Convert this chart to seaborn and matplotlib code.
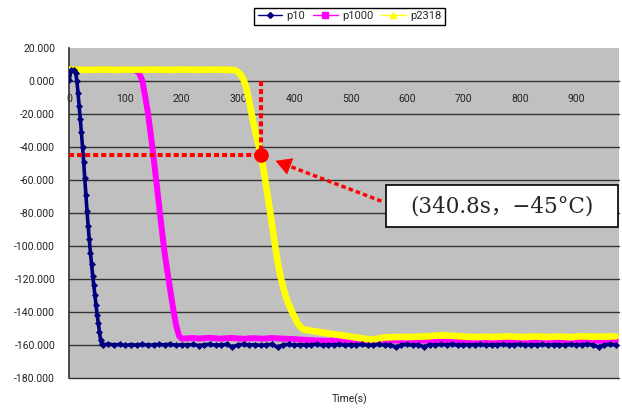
import matplotlib
matplotlib.use("Agg")
import matplotlib.pyplot as plt
from matplotlib.lines import Line2D
from matplotlib.patches import Rectangle
from matplotlib.ticker import FuncFormatter
from matplotlib.transforms import IdentityTransform
import numpy as np
import pandas as pd
import seaborn as sns

# ---------------------------------------------------------------- data
series_names = ["p10", "p1000", "p2318"]

# p10: fast cool-down, then steady near -160 degC
p10_time = ([0, 4, 8, 12, 14, 16, 18, 20, 22, 24, 26, 28, 30, 32, 34, 36, 38,
             40, 42, 44, 46, 48, 50, 52, 54, 56, 58, 60]
            + list(range(70, 980, 10)))
p10_temp = [0.5, 6.8, 7.0, 5.0, 0.0, -7.0, -15.0, -23.0, -31.0, -40.0, -49.0,
            -59.0, -69.0, -79.0, -88.0, -96.0, -104.0, -111.0, -118.0, -124.0,
            -130.0, -136.0, -142.0, -147.0, -152.0, -157.0, -159.5, -160.0,
            # 70 .. 160
            -159.6, -160.1, -159.8, -160.4, -159.9, -160.2, -159.7, -160.3, -160.0, -159.8,
            # 170 .. 260
            -160.1, -159.6, -160.4, -159.9, -160.2, -159.8, -160.5, -160.0, -159.7, -160.3,
            # 270 .. 360
            -160.0, -159.8, -161.3, -160.1, -159.7, -160.2, -159.9, -160.4, -160.0, -159.8,
            # 370 .. 460
            -161.4, -160.1, -159.7, -160.3, -159.9, -160.2, -160.0, -159.6, -160.4, -159.9,
            # 470 .. 560
            -160.1, -159.8, -160.3, -159.9, -160.2, -159.7, -160.4, -160.0, -159.8, -160.2,
            # 570 .. 660
            -160.0, -161.5, -160.1, -159.8, -160.3, -160.0, -161.3, -159.9, -160.2, -159.8,
            # 670 .. 760
            -160.1, -159.7, -160.3, -159.9, -160.2, -160.0, -159.8, -160.4, -159.9, -160.1,
            # 770 .. 860
            -159.8, -160.2, -160.0, -159.7, -160.3, -159.9, -160.1, -159.8, -160.2, -160.0,
            # 870 .. 960
            -159.9, -160.3, -159.8, -160.1, -160.0, -159.7, -160.2, -161.4, -160.0, -159.8,
            # 970
            -160.1]

# p1000
p1000_time = (list(range(0, 120, 10))
              + [115, 120, 125, 130, 135, 140, 145, 150, 155, 160, 165, 170,
                 175, 180, 185, 190, 195, 200]
              + list(range(210, 980, 10)))
p1000_temp = [7.0, 7.1, 7.0, 6.9, 7.0, 7.1, 7.0, 7.0, 6.9, 7.0, 7.1, 7.0,
              6.8, 6.3, 4.5, 0.5, -9.0, -19.0, -32.0, -46.0, -61.0, -76.0,
              -91.0, -105.0, -116.5, -127.5, -138.5, -148.0, -154.5, -156.3,
              # 210 .. 300
              -156.1, -155.9, -156.2, -156.0, -155.8, -156.1, -156.3, -156.0, -155.9, -156.2,
              # 310 .. 400
              -156.4, -156.1, -156.0, -156.3, -156.2, -155.9, -156.1, -156.3, -156.4, -156.6,
              # 410 .. 500
              -156.8, -157.0, -157.2, -157.4, -157.5, -157.6, -157.5, -157.7, -157.6, -157.5,
              # 510 .. 600
              -157.4, -157.6, -157.5, -157.3, -157.6, -157.8, -157.5, -157.4, -157.6, -157.5,
              # 610 .. 700
              -157.7, -157.5, -157.4, -157.6, -158.2, -158.3, -157.7, -157.5, -157.9, -158.1,
              # 710 .. 800
              -157.6, -157.4, -157.5, -157.7, -157.6, -157.4, -157.5, -157.6, -157.7, -157.5,
              # 810 .. 900
              -157.4, -157.6, -157.0, -156.9, -157.0, -157.1, -157.0, -157.2, -157.5, -157.6,
              # 910 .. 970
              -157.5, -157.7, -157.4, -157.6, -157.5, -157.4, -157.6]

# p2318
p2318_time = (list(range(0, 300, 10))
              + [295, 300, 305, 310, 315, 320, 325, 330, 335, 340.8, 345, 350,
                 355, 360, 365, 370, 375, 380, 385, 390, 395, 400, 405, 410,
                 415, 420]
              + list(range(430, 980, 10)))
p2318_temp = [7.0, 7.1, 7.0, 6.9, 7.0, 7.0, 7.1, 7.0, 6.9, 7.0,
              7.1, 7.0, 7.0, 6.9, 7.0, 7.1, 7.0, 7.0, 6.9, 7.0,
              7.1, 7.0, 7.0, 6.9, 7.0, 7.1, 7.0, 7.0, 6.9, 7.0,
              6.6, 5.6, 3.8, 0.8, -4.5, -12.5, -21.5, -29.5, -37.0, -45.0,
              -53.0, -64.0, -75.0, -86.5, -98.0, -109.0, -118.0, -125.0,
              -131.0, -135.5, -139.5, -143.0, -146.5, -149.0, -150.4, -151.0,
              # 430 .. 520
              -151.5, -152.0, -152.6, -153.1, -153.6, -154.1, -154.6, -155.1, -155.6, -156.1,
              # 530 .. 620
              -156.6, -156.8, -156.2, -155.6, -155.4, -155.3, -155.2, -155.3, -155.2, -155.1,
              # 630 .. 720
              -155.0, -154.8, -154.5, -154.3, -154.4, -154.6, -154.8, -155.0, -155.2, -155.3,
              # 730 .. 820
              -155.2, -155.1, -155.3, -155.2, -155.0, -154.9, -155.1, -155.2, -155.3, -155.1,
              # 830 .. 920
              -155.0, -155.2, -155.3, -155.1, -155.0, -155.2, -155.4, -155.1, -154.9, -155.0,
              # 930 .. 970
              -155.2, -155.0, -155.1, -155.0, -154.9]

# highlighted reading on p2318
mark_time = 340.8
mark_temp = -45.0

x_ticks = [0, 100, 200, 300, 400, 500, 600, 700, 800, 900]
y_ticks = [20, 0, -20, -40, -60, -80, -100, -120, -140, -160, -180]
x_label = "Time(s)"

# ---------------------------------------------------------------- style
sns.set_style("white")
plt.rcParams["font.family"] = ["Roboto", "DejaVu Sans"]

colors = {"p10": "#000080", "p1000": "#FF00FF", "p2318": "#FFFF00"}
markers = {"p10": "D", "p1000": "s", "p2318": "^"}

W, H = 622, 408
fig = plt.figure(figsize=(W / 100, H / 100), dpi=100)
ax_l, ax_r, ax_t, ax_b = 69, 619, 48.3, 377.7
ax = fig.add_axes([ax_l / W, 1 - ax_b / H, (ax_r - ax_l) / W, (ax_b - ax_t) / H])
ax.set_facecolor("#C0C0C0")

frames = {
    "p10": pd.DataFrame({"t": p10_time, "v": p10_temp}),
    "p1000": pd.DataFrame({"t": p1000_time, "v": p1000_temp}),
    "p2318": pd.DataFrame({"t": p2318_time, "v": p2318_temp}),
}

# drawing order: p1000 underneath, p2318 over it, p10 on top
sns.lineplot(data=frames["p1000"], x="t", y="v", ax=ax, color=colors["p1000"],
             lw=4.3, sort=False, estimator=None, zorder=3)
sns.lineplot(data=frames["p2318"], x="t", y="v", ax=ax, color=colors["p2318"],
             lw=4.8, sort=False, estimator=None, zorder=4)
sns.lineplot(data=frames["p10"], x="t", y="v", ax=ax, color=colors["p10"],
             lw=2.6, marker="D", markersize=3, markeredgewidth=0.6,
             markeredgecolor=colors["p10"], sort=False, estimator=None, zorder=5)

ax.set_xlim(0, 976)
ax.set_ylim(-180, 20)

# horizontal grid lines (the zero line is the x axis itself)
for v in y_ticks:
    if v not in (20, 0):
        ax.axhline(v, color="#333333", lw=1.0, zorder=1, clip_on=False)

for side in ("top", "right"):
    ax.spines[side].set_visible(False)
ax.spines["left"].set_color("#303030")
ax.spines["left"].set_linewidth(1.2)
ax.spines["bottom"].set_position(("data", 0))
ax.spines["bottom"].set_color("#333333")
ax.spines["bottom"].set_linewidth(1.0)
ax.spines["bottom"].set_zorder(2)

ax.set_xticks(x_ticks)
ax.set_xticklabels([str(t) for t in x_ticks])
ax.set_yticks(y_ticks)
ax.yaxis.set_major_formatter(FuncFormatter(lambda v, p: f"{v:.3f}"))
ax.tick_params(axis="x", direction="in", length=3, width=1, color="#333333",
               pad=9, labelsize=7.5, labelcolor="#222222")
ax.tick_params(axis="y", length=0, pad=10, labelsize=7.5, labelcolor="#222222")
ax.set_xlabel("")
ax.set_ylabel("")
ax.grid(False)

fig.text(350 / W, 1 - 399 / H, x_label, ha="center", va="center",
         fontsize=7.5, color="#222222")

# legend
handles = [
    Line2D([], [], color=colors["p10"], lw=1, marker=markers["p10"], markersize=3),
    Line2D([], [], color=colors["p1000"], lw=1, marker=markers["p1000"], markersize=4),
    Line2D([], [], color=colors["p2318"], lw=1, marker=markers["p2318"], markersize=4.5),
]
leg = fig.legend(handles, series_names, loc="center",
                 bbox_to_anchor=(349.5 / W, 1 - 16.3 / H), ncol=3,
                 frameon=True, fancybox=False, edgecolor="black", framealpha=1,
                 fontsize=8, handlelength=2.2, handletextpad=0.4,
                 columnspacing=0.7, borderpad=0.3)
leg.get_frame().set_linewidth(1.0)

# highlighted reading: guide lines, dot, callout
dot_style = dict(color="red", lw=2.9, linestyle=(0, (1.25, 0.75)),
                 dash_capstyle="butt", zorder=6)
ax.plot([mark_time, mark_time], [0, mark_temp], **dot_style)
ax.plot([0, mark_time], [mark_temp, mark_temp], **dot_style)
ax.plot([mark_time], [mark_temp], "o", color="red", markersize=9.5, zorder=7)

box_x0, box_y0, box_w, box_h = 0.576, 0.4575, 0.422, 0.1275
ax.add_patch(Rectangle((box_x0, box_y0), box_w, box_h, transform=ax.transAxes,
                       facecolor="white", edgecolor="black", lw=1.2,
                       zorder=8, clip_on=False))
label = f"({mark_time}s\uff0c\u2212{abs(mark_temp):.0f}\u00b0C)"
ax.text(box_x0 + box_w / 2, box_y0 + box_h / 2, label, transform=ax.transAxes,
        ha="center", va="center", fontsize=15.5,
        family=["DejaVu Serif", "Noto Sans CJK KR"], zorder=9)

# dotted arrow from the callout box toward the dot (in pixel space)
p_dot = ax.transData.transform((mark_time, mark_temp))
p_tail = ax.transAxes.transform((box_x0 - 0.008, 0.536))
u = (p_dot - p_tail) / np.hypot(*(p_dot - p_tail))
p_tip = p_dot - u * 15.5
p_head_base = p_tip - u * 11
shaft = Line2D([p_tail[0], p_head_base[0]], [p_tail[1], p_head_base[1]],
               transform=IdentityTransform(), color="red", lw=2.5,
               linestyle=(0, (1.3, 0.9)), dash_capstyle="butt", zorder=7)
fig.add_artist(shaft)
ax.annotate("", xy=tuple(p_tip), xycoords="figure pixels",
            xytext=tuple(p_head_base - u * 1), textcoords="figure pixels",
            arrowprops=dict(arrowstyle="-|>,head_length=0.75,head_width=0.42",
                            color="red", lw=0.5, shrinkA=0, shrinkB=0,
                            mutation_scale=14),
            zorder=7)

fig.savefig("out.png", dpi=100)
